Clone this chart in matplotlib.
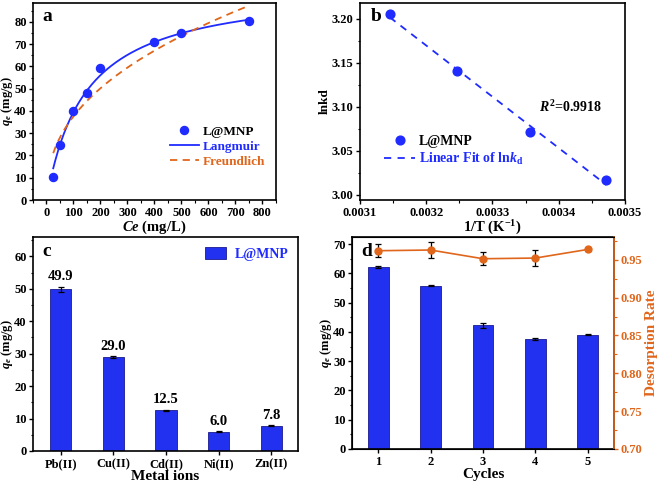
import numpy as np
import matplotlib
matplotlib.use("Agg")
import matplotlib.pyplot as plt
from matplotlib.ticker import MultipleLocator

plt.rcParams['font.family'] = ['Liberation Serif', 'DejaVu Serif']
plt.rcParams['font.weight'] = 'bold'
plt.rcParams['axes.labelweight'] = 'bold'
plt.rcParams['mathtext.fontset'] = 'custom'
plt.rcParams['mathtext.rm'] = 'Liberation Serif:bold'
plt.rcParams['mathtext.it'] = 'Liberation Serif:italic:bold'
plt.rcParams['mathtext.bf'] = 'Liberation Serif:bold'
plt.rcParams['xtick.direction'] = 'out'
plt.rcParams['ytick.direction'] = 'out'

BLUE = '#1f2bff'
BAR = '#2230f0'
ORANGE = '#e0661c'

# (a) adsorption isotherm
ce = [25, 50, 100, 150, 200, 400, 500, 750]
qe = [10.5, 24.8, 39.8, 48.0, 59.3, 70.8, 75.0, 80.6]
langmuir_qm, langmuir_kl = 96.6, 0.00692
freundlich_kf, freundlich_n = 5.47, 2.39

# (b) van't Hoff
inv_t = [0.003145, 0.003247, 0.003356, 0.003472]
lnkd = [3.2057, 3.1405, 3.0710, 3.0167]

# (c) selectivity
metals = ['Pb(II)', 'Cu(II)', 'Cd(II)', 'Ni(II)', 'Zn(II)']
q_metal = [49.9, 29.0, 12.5, 6.0, 7.8]
q_metal_err = [0.8, 0.2, 0.25, 0.15, 0.15]

# (d) reusability
cycles = [1, 2, 3, 4, 5]
q_cycle = [62.2, 55.8, 42.2, 37.5, 39.1]
q_cycle_err = [0.3, 0.1, 1.0, 0.3, 0.1]
desorb = [0.9619, 0.9628, 0.9513, 0.9522, 0.9636]
desorb_err = [0.0084, 0.011, 0.0086, 0.010, 0.0015]

fig = plt.figure(figsize=(6.61, 4.83), dpi=100)
ax_a = fig.add_axes([0.0499, 0.5859, 0.3676, 0.4079])
ax_b = fig.add_axes([0.5446, 0.5859, 0.4009, 0.4079])
ax_c = fig.add_axes([0.0499, 0.0663, 0.4009, 0.4431])
ax_d = fig.add_axes([0.5325, 0.0704, 0.3964, 0.4389])

fs = 9
lfs = 10.5
yfs = 9
for ax in (ax_a, ax_b, ax_c, ax_d):
    ax.tick_params(labelsize=fs, width=1, length=3, pad=2)
    ax.tick_params(axis='y', pad=1.5)
    ax.tick_params(which='minor', width=0.8, length=1.8)
    for s in ax.spines.values():
        s.set_linewidth(1.2)

# ---- a
cfit = np.linspace(ce[0], ce[-1], 200)
lang = langmuir_qm * langmuir_kl * cfit / (1 + langmuir_kl * cfit)
freu = freundlich_kf * cfit ** (1 / freundlich_n)
ax_a.plot(ce, qe, 'o', color=BLUE, ms=5.8, label='L@MNP', zorder=3)
ax_a.plot(cfit, lang, '-', color=BLUE, lw=1.3, label='Langmuir')
ax_a.plot(cfit, freu, '--', color=ORANGE, lw=1.3, dashes=(4, 3), label='Freundlich')
ax_a.set_xlim(-50, 850)
ax_a.set_ylim(0, 88.5)
ax_a.xaxis.set_major_locator(MultipleLocator(100))
ax_a.xaxis.set_minor_locator(MultipleLocator(50))
ax_a.yaxis.set_major_locator(MultipleLocator(10))
ax_a.yaxis.set_minor_locator(MultipleLocator(5))
ax_a.set_xlabel('$Ce$ (mg/L)', fontsize=lfs, labelpad=0)
ax_a.set_ylabel('$q_e$ (mg/g)', fontsize=yfs)
ax_a.yaxis.set_label_coords(-0.074, 0.5)
ax_a.text(0.04, 0.93, 'a', transform=ax_a.transAxes, fontsize=14, fontweight='bold', va='center')
leg = ax_a.legend(loc='center', bbox_to_anchor=(0.76, 0.27), frameon=False, fontsize=9.5,
                  handlelength=2.2, handletextpad=0.3, labelspacing=0.2)
for t, c in zip(leg.get_texts(), ['black', BLUE, ORANGE]):
    t.set_color(c)

# ---- b
slope, icpt = np.polyfit(inv_t, lnkd, 1)
xfit = np.array([inv_t[0], inv_t[-1]])
ax_b.plot(inv_t, lnkd, 'o', color=BLUE, ms=6.3, label='L@MNP', zorder=3)
ax_b.plot(xfit, slope * xfit + icpt, '--', color=BLUE, lw=1.3, dashes=(4, 3.5),
          label='Linear Fit of ln$k_\\mathrm{d}$')
ax_b.set_xlim(0.0031, 0.0035)
ax_b.set_ylim(2.994, 3.218)
ax_b.xaxis.set_major_locator(MultipleLocator(0.0001))
ax_b.xaxis.set_minor_locator(MultipleLocator(0.00005))
ax_b.yaxis.set_major_locator(MultipleLocator(0.05))
ax_b.yaxis.set_minor_locator(MultipleLocator(0.025))
ax_b.xaxis.set_major_formatter(plt.FormatStrFormatter('%.4f'))
ax_b.yaxis.set_major_formatter(plt.FormatStrFormatter('%.2f'))
ax_b.set_xlabel('1/T (K$^{-1}$)', fontsize=lfs, labelpad=0)
ax_b.set_ylabel('lnkd', fontsize=yfs + 0.5)
ax_b.yaxis.set_label_coords(-0.112, 0.5)
ax_b.text(0.04, 0.93, 'b', transform=ax_b.transAxes, fontsize=14, fontweight='bold', va='center')
ax_b.text(0.003370, 3.10, '$R^2$=0.9918', fontsize=10, va='center')
leg = ax_b.legend(loc='center left', bbox_to_anchor=(0.045, 0.25), frameon=False, fontsize=10,
                  handlelength=2.2, handletextpad=0.3, labelspacing=0.2)
for t, c in zip(leg.get_texts(), ['black', BLUE]):
    t.set_color(c)

# ---- c
xc = np.arange(len(metals))
ax_c.bar(xc, q_metal, width=0.4, color=BAR, edgecolor='#1a1a90', lw=0.6,
         yerr=q_metal_err, capsize=2, error_kw=dict(lw=0.9, capthick=0.9), label='L@MNP')
for xi, v, e in zip(xc, q_metal, q_metal_err):
    ax_c.text(xi, v + e + 1.0, f'{v:.1f}', ha='center', va='bottom', fontsize=10.5, fontweight='bold')
ax_c.set_xticks(xc)
ax_c.set_xticklabels(metals)
ax_c.set_xlim(-0.53, 4.51)
ax_c.set_ylim(0, 66)
ax_c.yaxis.set_major_locator(MultipleLocator(10))
ax_c.yaxis.set_minor_locator(MultipleLocator(5))
ax_c.set_xlabel('Metal ions', fontsize=11, labelpad=0)
ax_c.set_ylabel('$q_e$ (mg/g)', fontsize=yfs)
ax_c.yaxis.set_label_coords(-0.069, 0.5)
ax_c.text(0.035, 0.93, 'c', transform=ax_c.transAxes, fontsize=14, fontweight='bold', va='center')
leg = ax_c.legend(loc='upper right', frameon=False, fontsize=10, handlelength=1.5,
                  handleheight=1.0, handletextpad=0.6, borderaxespad=0.3)
for t in leg.get_texts():
    t.set_color(BLUE)

# ---- d
ax_d.bar(cycles, q_cycle, width=0.4, color=BAR, edgecolor='#1a1a90', lw=0.6,
         yerr=q_cycle_err, capsize=2, error_kw=dict(lw=0.9, capthick=0.9))
ax_d.set_xlim(0.5, 5.5)
ax_d.set_ylim(0, 72.4)
ax_d.set_xticks(cycles)
ax_d.yaxis.set_major_locator(MultipleLocator(10))
ax_d.yaxis.set_minor_locator(MultipleLocator(5))
ax_d.set_xlabel('Cycles', fontsize=11, labelpad=0)
ax_d.set_ylabel('$q_e$ (mg/g)', fontsize=yfs)
ax_d.yaxis.set_label_coords(-0.069, 0.5)
ax_d.text(0.035, 0.93, 'd', transform=ax_d.transAxes, fontsize=14, fontweight='bold', va='center')
ax_d2 = ax_d.twinx()
ax_d2.errorbar(cycles, desorb, yerr=desorb_err, color=ORANGE, marker='o', ms=5, lw=1.2,
               ecolor='black', elinewidth=0.9, capsize=2, capthick=0.9)
ax_d2.set_ylim(0.70, 0.980)
ax_d2.yaxis.set_major_locator(MultipleLocator(0.05))
ax_d2.yaxis.set_minor_locator(MultipleLocator(0.025))
ax_d2.yaxis.set_major_formatter(plt.FormatStrFormatter('%.2f'))
ax_d2.tick_params(axis='y', labelsize=fs, colors=ORANGE, width=1, length=3, pad=2)
ax_d2.tick_params(axis='y', which='minor', colors=ORANGE, width=0.8, length=1.8)
ax_d2.spines['right'].set_color(ORANGE)
ax_d2.spines['right'].set_linewidth(1.2)
ax_d2.set_ylabel('Desorption Rate', fontsize=11, color=ORANGE, labelpad=2)

fig.savefig('out.png', dpi=100)
